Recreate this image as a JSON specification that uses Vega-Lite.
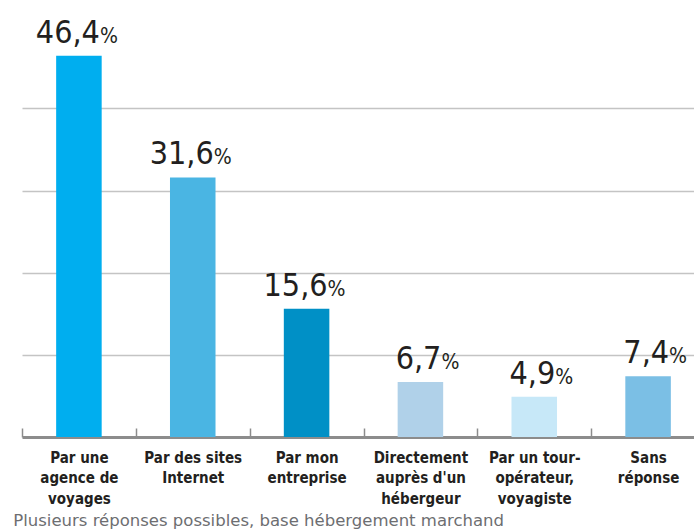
{
  "$schema": "https://vega.github.io/schema/vega-lite/v6.json",
  "autosize": {"type": "none"},
  "padding": {"left": 22, "top": 0, "right": 0, "bottom": 95},
  "width": 672,
  "height": 437,
  "data": {
    "values": [
      {"cat": "Par une|agence de|voyages", "pct": 46.4, "num": "46,4", "color": "#00AEEF"},
      {"cat": "Par des sites|Internet", "pct": 31.6, "num": "31,6", "color": "#4AB5E3"},
      {"cat": "Par mon|entreprise", "pct": 15.6, "num": "15,6", "color": "#0090C6"},
      {"cat": "Directement|auprès d'un|hébergeur", "pct": 6.7, "num": "6,7", "color": "#B0D1E9"},
      {"cat": "Par un tour-|opérateur,|voyagiste", "pct": 4.9, "num": "4,9", "color": "#C7E8F8"},
      {"cat": "Sans|réponse", "pct": 7.4, "num": "7,4", "color": "#7BBFE5"}
    ]
  },
  "title": {
    "text": "Plusieurs réponses possibles, base hébergement marchand",
    "orient": "bottom",
    "anchor": "start",
    "dx": -8,
    "offset": 7,
    "font": "DejaVu Sans",
    "fontSize": 16.5,
    "fontWeight": "normal",
    "color": "#6D6E71"
  },
  "encoding": {
    "x": {
      "field": "cat",
      "type": "nominal",
      "sort": null,
      "scale": {"range": [0, 683], "paddingInner": 0, "paddingOuter": 0},
      "axis": {
        "title": null,
        "labelAngle": 0,
        "labelExpr": "split(datum.label, '|')",
        "tickBand": "extent",
        "tickSize": -9,
        "tickWidth": 1.5,
        "tickColor": "#8C8C8C",
        "domainColor": "#8C8C8C",
        "domainWidth": 3,
        "labelFont": "DejaVu Sans Condensed, DejaVu Sans",
        "labelFontSize": 15,
        "labelFontWeight": "bold",
        "labelColor": "#231F20",
        "labelLineHeight": 20.5,
        "labelPadding": 22,
        "labelBaseline": "top",
        "grid": false
      }
    },
    "y": {
      "field": "pct",
      "type": "quantitative",
      "scale": {"domain": [0, 53.2], "nice": false},
      "axis": {
        "title": null,
        "values": [10, 20, 30, 40],
        "labels": false,
        "ticks": false,
        "domain": false,
        "grid": true,
        "gridColor": "#C4C4C4",
        "gridWidth": 1.5
      }
    }
  },
  "layer": [
    {
      "mark": {"type": "bar", "width": {"band": 0.4}},
      "encoding": {"color": {"field": "color", "type": "nominal", "scale": null, "legend": null}}
    },
    {
      "mark": {"type": "text", "align": "right", "baseline": "alphabetic", "dx": 21, "dy": -13, "font": "DejaVu Sans Condensed, DejaVu Sans", "fontSize": 32, "fontWeight": 300, "color": "#231F20"},
      "encoding": {"text": {"field": "num"}}
    },
    {
      "mark": {"type": "text", "align": "left", "baseline": "alphabetic", "dx": 21, "dy": -13, "font": "DejaVu Sans Condensed, DejaVu Sans", "fontSize": 21, "fontWeight": 300, "color": "#231F20"},
      "encoding": {"text": {"value": "%"}}
    }
  ],
  "config": {"view": {"stroke": null}}
}
